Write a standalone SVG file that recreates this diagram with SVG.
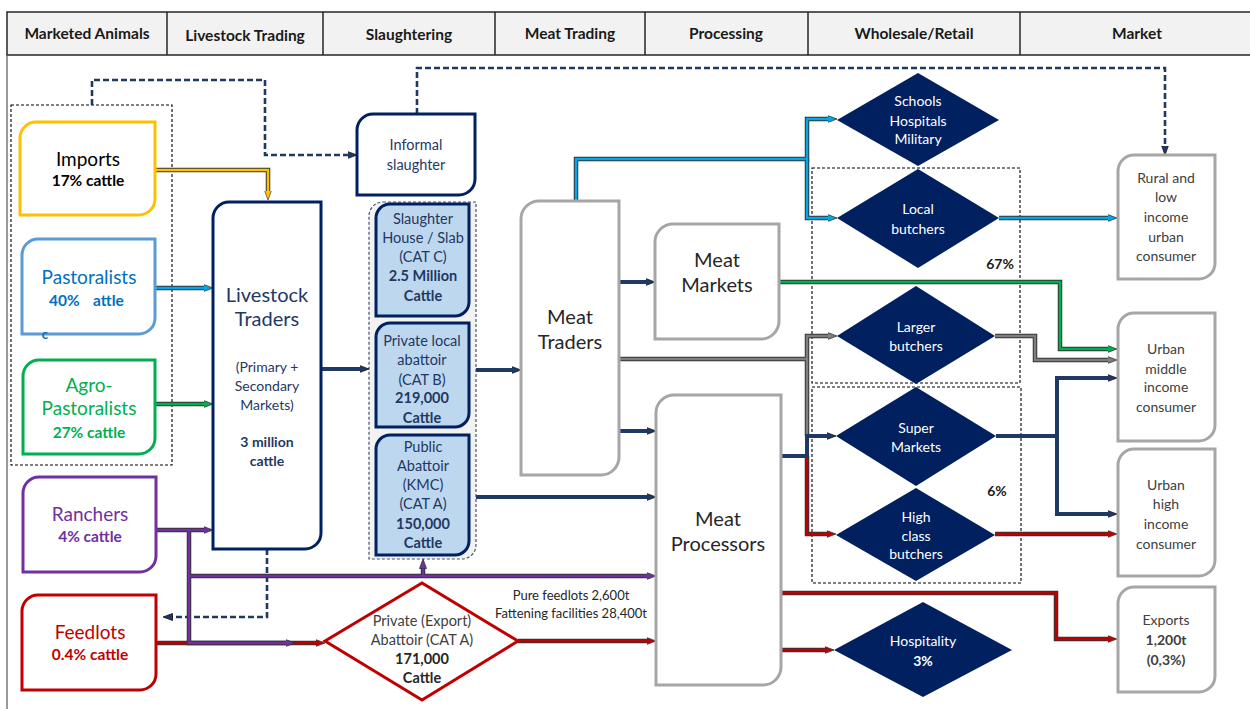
<svg xmlns="http://www.w3.org/2000/svg" width="1250" height="709" viewBox="0 0 1250 709">
<defs>
<style>
text{font-family:Lato,'Liberation Sans',sans-serif;text-anchor:middle}
.hd{font-size:15.5px;font-weight:bold;fill:#1a1a1a}
.b{font-weight:bold}
.big{font-size:19px}
.nv{fill:#1F3864}
.sl{font-size:14.5px;fill:#1F3864}
.dm{font-size:14px;fill:#ffffff}
.cs{font-size:14px;fill:#404040}
.pc{font-size:14px;font-weight:bold;fill:#1a1a1a}
.nd{fill:#ffffff;stroke-width:3}
.gy{stroke:#A6A6A6}
.dia{fill:#002060}
.dbox{fill:none;stroke:#000;stroke-width:1.1;stroke-dasharray:3 2}
.o{fill:none;stroke:#333;stroke-width:4.5}
.c{fill:none;stroke-width:2.5}
.cN{fill:none;stroke:#1F3864;stroke-width:4}
.dash{fill:none;stroke:#1F3864;stroke-width:2.6;stroke-dasharray:6 3}
</style>
<marker id="aN" viewBox="0 0 10 8" refX="3.5" refY="4" markerWidth="10" markerHeight="8" markerUnits="userSpaceOnUse" orient="auto"><path d="M0,0.5 L9.5,4 L0,7.5 Z" fill="#1F3864" stroke="#111" stroke-width="0.8"/></marker>
<marker id="aG" viewBox="0 0 10 8" refX="3.5" refY="4" markerWidth="10" markerHeight="8" markerUnits="userSpaceOnUse" orient="auto"><path d="M0,0.5 L9.5,4 L0,7.5 Z" fill="#FFC000" stroke="#555" stroke-width="0.8"/></marker>
<marker id="aC" viewBox="0 0 10 8" refX="3.5" refY="4" markerWidth="10" markerHeight="8" markerUnits="userSpaceOnUse" orient="auto"><path d="M0,0.5 L9.5,4 L0,7.5 Z" fill="#00A8E8" stroke="#333" stroke-width="0.8"/></marker>
<marker id="aE" viewBox="0 0 10 8" refX="3.5" refY="4" markerWidth="10" markerHeight="8" markerUnits="userSpaceOnUse" orient="auto"><path d="M0,0.5 L9.5,4 L0,7.5 Z" fill="#00B050" stroke="#333" stroke-width="0.8"/></marker>
<marker id="aY" viewBox="0 0 10 8" refX="3.5" refY="4" markerWidth="10" markerHeight="8" markerUnits="userSpaceOnUse" orient="auto"><path d="M0,0.5 L9.5,4 L0,7.5 Z" fill="#7F7F7F" stroke="#333" stroke-width="0.8"/></marker>
<marker id="aP" viewBox="0 0 10 8" refX="3.5" refY="4" markerWidth="10" markerHeight="8" markerUnits="userSpaceOnUse" orient="auto"><path d="M0,0.5 L9.5,4 L0,7.5 Z" fill="#7030A0" stroke="#333" stroke-width="0.8"/></marker>
<marker id="aR" viewBox="0 0 10 8" refX="3.5" refY="4" markerWidth="10" markerHeight="8" markerUnits="userSpaceOnUse" orient="auto"><path d="M0,0.5 L9.5,4 L0,7.5 Z" fill="#C00000" stroke="#333" stroke-width="0.8"/></marker>
</defs>

<rect x="0" y="0" width="1250" height="709" fill="#ffffff"/>

<g id="header">
<rect x="7" y="12" width="1250" height="43" fill="#F2F2F2" stroke="#262626" stroke-width="1.5"/>
<line x1="7" y1="55" x2="7" y2="709" stroke="#595959" stroke-width="1.2"/>
<g stroke="#262626" stroke-width="1.5">
<line x1="167" y1="12" x2="167" y2="55"/><line x1="323" y1="12" x2="323" y2="55"/><line x1="495" y1="12" x2="495" y2="55"/><line x1="645" y1="12" x2="645" y2="55"/><line x1="808" y1="12" x2="808" y2="55"/><line x1="1020" y1="12" x2="1020" y2="55"/>
</g>
<text class="hd" x="87" y="39">Marketed Animals</text>
<text class="hd" x="245" y="41">Livestock Trading</text>
<text class="hd" x="409" y="40">Slaughtering</text>
<text class="hd" x="570" y="39">Meat Trading</text>
<text class="hd" x="726" y="39">Processing</text>
<text class="hd" x="914" y="39">Wholesale/Retail</text>
<text class="hd" x="1137" y="39">Market</text>
</g>

<g id="groups">
<rect class="dbox" x="11" y="105" width="161" height="360"/>
<rect class="dbox" x="812" y="168" width="208" height="215"/>
<rect class="dbox" x="812" y="387" width="209" height="196"/>
<path id="slaughter-container" d="M383,202 H476 V545 A14,14 0 0 1 462,559 H369 V216 A14,14 0 0 1 383,202 Z" fill="#F2F2F2" stroke="#44546A" stroke-width="1.2" stroke-dasharray="3 2"/>
<text class="pc" x="1000" y="269">67%</text>
<text class="pc" x="997" y="496">6%</text>
</g>

<g id="connectors">
<path class="dash" d="M92,105 V80 H265 V155 H351" marker-end="url(#aN)"/>
<path class="dash" d="M417,114 V68 H1165 V149" marker-end="url(#aN)"/>
<path class="dash" d="M267,549 V617 H169" marker-end="url(#aN)"/>
<path class="o" d="M155,170 H268 V194"/><path class="c" stroke="#FFC000" d="M155,170 H268 V194" marker-end="url(#aG)"/>
<path class="o" d="M155,288 H207"/><path class="c" stroke="#00A8E8" d="M155,288 H207" marker-end="url(#aC)"/>
<path class="o" d="M155,404 H207"/><path class="c" stroke="#00B050" d="M155,404 H207" marker-end="url(#aE)"/>
<path class="o" d="M156,643 H319"/><path class="c" stroke="#C00000" d="M156,643 H319" marker-end="url(#aR)"/>
<path class="o" d="M156,530 H207"/><path class="o" d="M189,530 V643 H289"/><path class="o" d="M189,576 H650"/><path class="o" d="M423,576 V565"/>
<path class="c" stroke="#7030A0" d="M156,530 H207" marker-end="url(#aP)"/>
<path class="c" stroke="#7030A0" d="M189,530 V643 H289" marker-end="url(#aP)"/>
<path class="c" stroke="#7030A0" d="M189,576 H650" marker-end="url(#aP)"/>
<path class="c" stroke="#7030A0" d="M423,576 V565" marker-end="url(#aP)"/>
<path class="o" d="M518,641 H650"/><path class="c" stroke="#C00000" d="M518,641 H650" marker-end="url(#aR)"/>
<path class="cN" d="M321,369 H363" marker-end="url(#aN)"/>
<path class="cN" d="M476,370 H515" marker-end="url(#aN)"/>
<path class="cN" d="M476,497 H650" marker-end="url(#aN)"/>
<path class="cN" d="M619,282 H649" marker-end="url(#aN)"/>
<path class="cN" d="M619,431 H650" marker-end="url(#aN)"/>
<path class="o" d="M576,201 V159 H807 V119 H831"/><path class="o" d="M807,159 V218 H831"/><path class="o" d="M999,218 H1111"/>
<path class="c" stroke="#00A8E8" d="M576,201 V159 H807 V119 H831" marker-end="url(#aC)"/>
<path class="c" stroke="#00A8E8" d="M807,159 V218 H831" marker-end="url(#aC)"/>
<path class="c" stroke="#00A8E8" d="M999,218 H1111" marker-end="url(#aC)"/>
<path class="o" d="M779,282 H1060 V349 H1111"/><path class="c" stroke="#00B050" d="M779,282 H1060 V349 H1111" marker-end="url(#aE)"/>
<path class="o" d="M619,359 H807"/><path class="o" d="M807,436 V336 H831"/><path class="o" d="M995,336 H1035 V360 H1111"/>
<path class="c" stroke="#7F7F7F" d="M619,359 H807"/>
<path class="c" stroke="#7F7F7F" d="M807,436 V336 H831" marker-end="url(#aY)"/>
<path class="c" stroke="#7F7F7F" d="M995,336 H1035 V360 H1111" marker-end="url(#aY)"/>
<path class="o" d="M807,456 V534 H830"/><path class="c" stroke="#C00000" d="M807,456 V534 H830" marker-end="url(#aR)"/>
<path class="o" d="M995,534 H1111"/><path class="c" stroke="#C00000" d="M995,534 H1111" marker-end="url(#aR)"/>
<path class="o" d="M781,593 H1056 V639 H1111"/><path class="c" stroke="#C00000" d="M781,593 H1056 V639 H1111" marker-end="url(#aR)"/>
<path class="o" d="M781,650 H828"/><path class="c" stroke="#C00000" d="M781,650 H828" marker-end="url(#aR)"/>
<path class="cN" d="M781,456 H807 V436 H830" marker-end="url(#aN)"/>
<path class="cN" d="M996,436 H1057 V378 H1111" marker-end="url(#aN)"/>
<path class="cN" d="M1057,436 V514 H1111" marker-end="url(#aN)"/>
</g>

<g id="imports">
<path class="nd" stroke="#FFC000" d="M36,122 H155 V199 A16,16 0 0 1 139,215 H20 V138 A16,16 0 0 1 36,122 Z"/>
<text class="big" x="88" y="166" fill="#000">Imports</text>
<text class="b" x="88" y="186" font-size="15.5" fill="#000">17% cattle</text>
</g>
<g id="pastoralists">
<path class="nd" stroke="#5B9BD5" d="M38,239 H155 V318 A16,16 0 0 1 139,334 H22 V255 A16,16 0 0 1 38,239 Z"/>
<text class="big" x="89" y="284" fill="#0070C0">Pastoralists</text>
<text class="b" x="49" y="306" font-size="15.5" fill="#0070C0" style="text-anchor:start">40%</text>
<text class="b" x="93" y="306" font-size="15.5" fill="#0070C0" style="text-anchor:start">attle</text>
<text class="b" x="45" y="339" font-size="13" fill="#0070C0">c</text>
</g>
<g id="agro-pastoralists">
<path class="nd" stroke="#00B050" d="M39,360 H155 V438 A16,16 0 0 1 139,454 H23 V376 A16,16 0 0 1 39,360 Z"/>
<text class="big" x="89" y="392" fill="#00B050">Agro-</text>
<text class="big" x="89" y="415" fill="#00B050">Pastoralists</text>
<text class="b" x="89" y="438" font-size="15.5" fill="#00B050">27% cattle</text>
</g>
<g id="ranchers">
<path class="nd" stroke="#7030A0" d="M39,477 H156 V556 A16,16 0 0 1 140,572 H23 V493 A16,16 0 0 1 39,477 Z"/>
<text class="big" x="90" y="521" fill="#7030A0">Ranchers</text>
<text class="b" x="90" y="542" font-size="15.5" fill="#7030A0">4% cattle</text>
</g>
<g id="feedlots">
<path class="nd" stroke="#C00000" d="M38,595 H156 V674 A16,16 0 0 1 140,690 H22 V611 A16,16 0 0 1 38,595 Z"/>
<text class="big" x="90" y="639" fill="#C00000">Feedlots</text>
<text class="b" x="90" y="660" font-size="15.5" fill="#C00000">0.4% cattle</text>
</g>
<g id="livestock-traders">
<path class="nd" stroke="#002060" d="M229,202 H321 V533 A16,16 0 0 1 305,549 H213 V218 A16,16 0 0 1 229,202 Z"/>
<text class="nv" x="267" y="302" font-size="20">Livestock</text>
<text class="nv" x="267" y="326" font-size="20">Traders</text>
<text class="nv" x="267" y="372" font-size="14">(Primary +</text>
<text class="nv" x="267" y="391" font-size="14">Secondary</text>
<text class="nv" x="267" y="410" font-size="14">Markets)</text>
<text class="nv b" x="267" y="447" font-size="14">3 million</text>
<text class="nv b" x="267" y="466" font-size="14">cattle</text>
</g>
<g id="informal-slaughter">
<path class="nd" stroke="#002060" d="M373,114 H475 V179 A16,16 0 0 1 459,195 H357 V130 A16,16 0 0 1 373,114 Z"/>
<text class="sl" x="416" y="150">Informal</text>
<text class="sl" x="416" y="170">slaughter</text>
</g>
<g id="slaughter-house">
<path fill="#BDD7EE" stroke="#002060" stroke-width="3" d="M390,204 H469 V302 A14,14 0 0 1 455,316 H376 V218 A14,14 0 0 1 390,204 Z"/>
<text class="sl" x="423" y="224">Slaughter</text>
<text class="sl" x="423" y="243">House / Slab</text>
<text class="sl" x="423" y="262">(CAT C)</text>
<text class="sl b" x="423" y="281">2.5 Million</text>
<text class="sl b" x="423" y="301">Cattle</text>
</g>
<g id="private-local-abattoir">
<path fill="#BDD7EE" stroke="#002060" stroke-width="3" d="M390,323 H469 V413 A14,14 0 0 1 455,427 H376 V337 A14,14 0 0 1 390,323 Z"/>
<text class="sl" x="422" y="346">Private local</text>
<text class="sl" x="422" y="365">abattoir</text>
<text class="sl" x="422" y="385">(CAT B)</text>
<text class="sl b" x="422" y="403">219,000</text>
<text class="sl b" x="422" y="423">Cattle</text>
</g>
<g id="public-abattoir">
<path fill="#BDD7EE" stroke="#002060" stroke-width="3" d="M390,435 H469 V541 A14,14 0 0 1 455,555 H376 V449 A14,14 0 0 1 390,435 Z"/>
<text class="sl" x="423" y="452">Public</text>
<text class="sl" x="423" y="471">Abattoir</text>
<text class="sl" x="423" y="490">(KMC)</text>
<text class="sl" x="423" y="509">(CAT A)</text>
<text class="sl b" x="423" y="529">150,000</text>
<text class="sl b" x="423" y="548">Cattle</text>
</g>
<g id="export-abattoir">
<polygon points="325,641 422,583 518,641 422,700" fill="#ffffff" stroke="#C00000" stroke-width="3"/>
<text x="422" y="626" font-size="14.5" fill="#404040">Private (Export)</text>
<text x="422" y="645" font-size="14.5" fill="#404040">Abattoir (CAT A)</text>
<text class="b" x="422" y="664" font-size="14.5" fill="#262626">171,000</text>
<text class="b" x="422" y="683" font-size="14.5" fill="#262626">Cattle</text>
</g>
<g id="feedlot-labels">
<text x="571" y="600" font-size="13" fill="#262626">Pure feedlots 2,600t</text>
<text x="571" y="618" font-size="13" fill="#262626">Fattening facilities 28,400t</text>
</g>
<g id="meat-traders">
<path class="nd gy" d="M539,201 H619 V457 A18,18 0 0 1 601,475 H521 V219 A18,18 0 0 1 539,201 Z"/>
<text x="570" y="324" font-size="20" fill="#262626">Meat</text>
<text x="570" y="349" font-size="20" fill="#262626">Traders</text>
</g>
<g id="meat-markets">
<path class="nd gy" d="M673,224 H779 V321 A18,18 0 0 1 761,339 H655 V242 A18,18 0 0 1 673,224 Z"/>
<text x="717" y="267" font-size="20" fill="#262626">Meat</text>
<text x="717" y="292" font-size="20" fill="#262626">Markets</text>
</g>
<g id="meat-processors">
<path class="nd gy" d="M674,395 H781 V667 A18,18 0 0 1 763,685 H656 V413 A18,18 0 0 1 674,395 Z"/>
<text x="718" y="526" font-size="20" fill="#262626">Meat</text>
<text x="718" y="551" font-size="20" fill="#262626">Processors</text>
</g>
<g id="schools">
<polygon class="dia" points="837,120 918,73 999,120 918,166"/>
<text class="dm" x="918" y="106">Schools</text>
<text class="dm" x="918" y="126">Hospitals</text>
<text class="dm" x="918" y="144">Military</text>
</g>
<g id="local-butchers">
<polygon class="dia" points="837,218 918,169 999,218 918,268"/>
<text class="dm" x="918" y="214">Local</text>
<text class="dm" x="918" y="234">butchers</text>
</g>
<g id="larger-butchers">
<polygon class="dia" points="837,336 916,286 995,336 916,384"/>
<text class="dm" x="916" y="332">Larger</text>
<text class="dm" x="916" y="351">butchers</text>
</g>
<g id="super-markets">
<polygon class="dia" points="836,436 916,387 996,436 916,486"/>
<text class="dm" x="916" y="433">Super</text>
<text class="dm" x="916" y="452">Markets</text>
</g>
<g id="high-class-butchers">
<polygon class="dia" points="836,535 916,488 995,535 916,581"/>
<text class="dm" x="916" y="522">High</text>
<text class="dm" x="916" y="541">class</text>
<text class="dm" x="916" y="559">butchers</text>
</g>
<g id="hospitality">
<polygon class="dia" points="834,650 923,602 1012,650 923,697"/>
<text class="dm" x="923" y="646">Hospitality</text>
<text class="dm b" x="923" y="666">3%</text>
</g>
<g id="rural-consumer">
<path class="nd gy" d="M1134,155 H1215 V263 A16,16 0 0 1 1199,279 H1118 V171 A16,16 0 0 1 1134,155 Z"/>
<text class="cs" x="1166" y="183">Rural and</text>
<text class="cs" x="1166" y="202">low</text>
<text class="cs" x="1166" y="222">income</text>
<text class="cs" x="1166" y="242">urban</text>
<text class="cs" x="1166" y="261">consumer</text>
</g>
<g id="urban-middle">
<path class="nd gy" d="M1134,313 H1215 V425 A16,16 0 0 1 1199,441 H1118 V329 A16,16 0 0 1 1134,313 Z"/>
<text class="cs" x="1166" y="354">Urban</text>
<text class="cs" x="1166" y="374">middle</text>
<text class="cs" x="1166" y="392">income</text>
<text class="cs" x="1166" y="412">consumer</text>
</g>
<g id="urban-high">
<path class="nd gy" d="M1134,449 H1215 V560 A16,16 0 0 1 1199,576 H1118 V465 A16,16 0 0 1 1134,449 Z"/>
<text class="cs" x="1166" y="490">Urban</text>
<text class="cs" x="1166" y="509">high</text>
<text class="cs" x="1166" y="529">income</text>
<text class="cs" x="1166" y="549">consumer</text>
</g>
<g id="exports">
<path class="nd gy" d="M1134,587 H1215 V676 A16,16 0 0 1 1199,692 H1118 V603 A16,16 0 0 1 1134,587 Z"/>
<text class="cs" x="1166" y="625">Exports</text>
<text class="cs b" x="1166" y="645" fill="#262626">1,200t</text>
<text class="cs b" x="1166" y="665" fill="#262626">(0,3%)</text>
</g>
</svg>
